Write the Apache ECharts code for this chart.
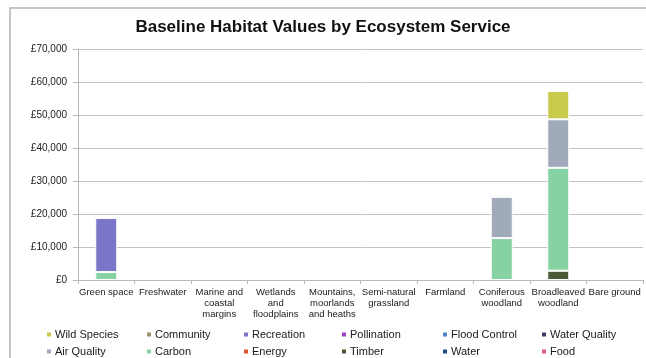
<!DOCTYPE html>
<html>
<head>
<meta charset="utf-8">
<script src="https://cdn.jsdelivr.net/npm/echarts@6/dist/echarts.min.js"></script>
<style>
  html, body { margin: 0; padding: 0; background: #fff; }
  #chart { width: 646px; height: 358px; }
</style>
</head>
<body>
<div id="chart"></div>
<script>
// Habitat categories along the x axis
var habitats = ['Green space', 'Freshwater', 'Marine and\ncoastal\nmargins', 'Wetlands\nand\nfloodplains',
  'Mountains,\nmoorlands\nand heaths', 'Semi-natural\ngrassland', 'Farmland', 'Coniferous\nwoodland',
  'Broadleaved\nwoodland', 'Bare ground'];

// Value (£) of each ecosystem service per habitat
var wildSpecies  = [0, 0, 0, 0, 0, 0, 0, 0, 8600, 0];
var community    = [0, 0, 0, 0, 0, 0, 0, 0, 0, 0];
var recreation   = [16400, 0, 0, 0, 0, 0, 0, 0, 0, 0];
var pollination  = [0, 0, 0, 0, 0, 0, 0, 0, 0, 0];
var floodControl = [0, 0, 0, 0, 0, 0, 0, 0, 0, 0];
var waterQuality = [0, 0, 0, 0, 0, 0, 0, 0, 0, 0];
var airQuality   = [0, 0, 0, 0, 0, 0, 0, 12500, 14700, 0];
var carbon       = [2400, 0, 0, 0, 0, 0, 0, 12700, 31200, 0];
var energy       = [0, 0, 0, 0, 0, 0, 0, 0, 0, 0];
var timber       = [0, 0, 0, 0, 0, 0, 0, 0, 2800, 0];
var water        = [0, 0, 0, 0, 0, 0, 0, 0, 0, 0];
var food         = [0, 0, 0, 0, 0, 0, 0, 0, 0, 0];

// Y axis ticks
var yMin = 0, yMax = 70000, yStep = 10000;

// Services in legend order (reading left-to-right, top row first)
var services = [
  { name: 'Wild Species',  data: wildSpecies,  color: '#c9c94b' },
  { name: 'Community',     data: community,    color: '#9d9466' },
  { name: 'Recreation',    data: recreation,   color: '#7c76c8' },
  { name: 'Pollination',   data: pollination,  color: '#a13ccb' },
  { name: 'Flood Control', data: floodControl, color: '#4f88c8' },
  { name: 'Water Quality', data: waterQuality, color: '#4a3862' },
  { name: 'Air Quality',   data: airQuality,   color: '#a1aaba' },
  { name: 'Carbon',        data: carbon,       color: '#86d2a3' },
  { name: 'Energy',        data: energy,       color: '#e0532f' },
  { name: 'Timber',        data: timber,       color: '#4a5a36' },
  { name: 'Water',         data: water,        color: '#1f4d8a' },
  { name: 'Food',          data: food,         color: '#e0579b' }
];

var font = 'Liberation Sans, Arial, sans-serif';

// Stack from the bottom up in reverse legend order
var series = services.slice().reverse().map(function (s) {
  return {
    name: s.name,
    type: 'bar',
    stack: 'total',
    barWidth: 22,
    data: s.data.map(function (v) { return v === 0 ? null : v; }),
    itemStyle: { color: s.color, borderColor: '#ffffff', borderWidth: 1 },
    emphasis: { disabled: true }
  };
});

// One legend block per entry laid out on a 6 x 2 grid
var legendCols = [45, 145, 242, 340, 441, 540];
var legendRows = [329, 346];
var legends = services.map(function (s, i) {
  return {
    data: [s.name],
    left: legendCols[i % 6],
    top: legendRows[Math.floor(i / 6)],
    icon: 'rect',
    itemWidth: 6,
    itemHeight: 6,
    padding: 0,
    selectedMode: false,
    textStyle: { fontFamily: font, fontSize: 11, color: '#1a1a1a', padding: [0, 0, 0, -2] }
  };
});

var chart = echarts.init(document.getElementById('chart'), null, { renderer: 'canvas' });
chart.setOption({
  animation: false,
  backgroundColor: '#ffffff',
  color: services.map(function (s) { return s.color; }),
  title: {
    text: 'Baseline Habitat Values by Ecosystem Service',
    left: 'center',
    top: 14,
    textStyle: { fontFamily: font, fontSize: 17, fontWeight: 'bold', color: '#111' }
  },
  graphic: [{
    type: 'rect',
    shape: { x: 10, y: 8, width: 700, height: 400 },
    style: { fill: 'none', stroke: '#b4b4b4', lineWidth: 1.5 },
    silent: true
  }],
  legend: legends,
  grid: { left: 78, right: 3, top: 49, bottom: 78, containLabel: false },
  xAxis: {
    type: 'category',
    data: habitats,
    boundaryGap: true,
    axisLine: { show: true, lineStyle: { color: '#b8b8b8', width: 1 } },
    axisTick: { show: true, length: 4, lineStyle: { color: '#b8b8b8' } },
    axisLabel: {
      interval: 0,
      margin: 7,
      fontFamily: font,
      fontSize: 9.5,
      lineHeight: 11,
      color: '#1a1a1a',
      align: 'center'
    }
  },
  yAxis: {
    type: 'value',
    min: yMin,
    max: yMax,
    interval: yStep,
    axisLine: { show: true, lineStyle: { color: '#b8b8b8', width: 1 } },
    axisTick: { show: true, length: 5, lineStyle: { color: '#b8b8b8' } },
    splitLine: { show: true, lineStyle: { color: '#c4c4c4', width: 1 } },
    axisLabel: {
      margin: 11,
      fontFamily: font,
      fontSize: 10,
      color: '#1a1a1a',
      formatter: function (v) { return '£' + v.toLocaleString('en-GB'); }
    }
  },
  series: series
});
</script>
</body>
</html>
